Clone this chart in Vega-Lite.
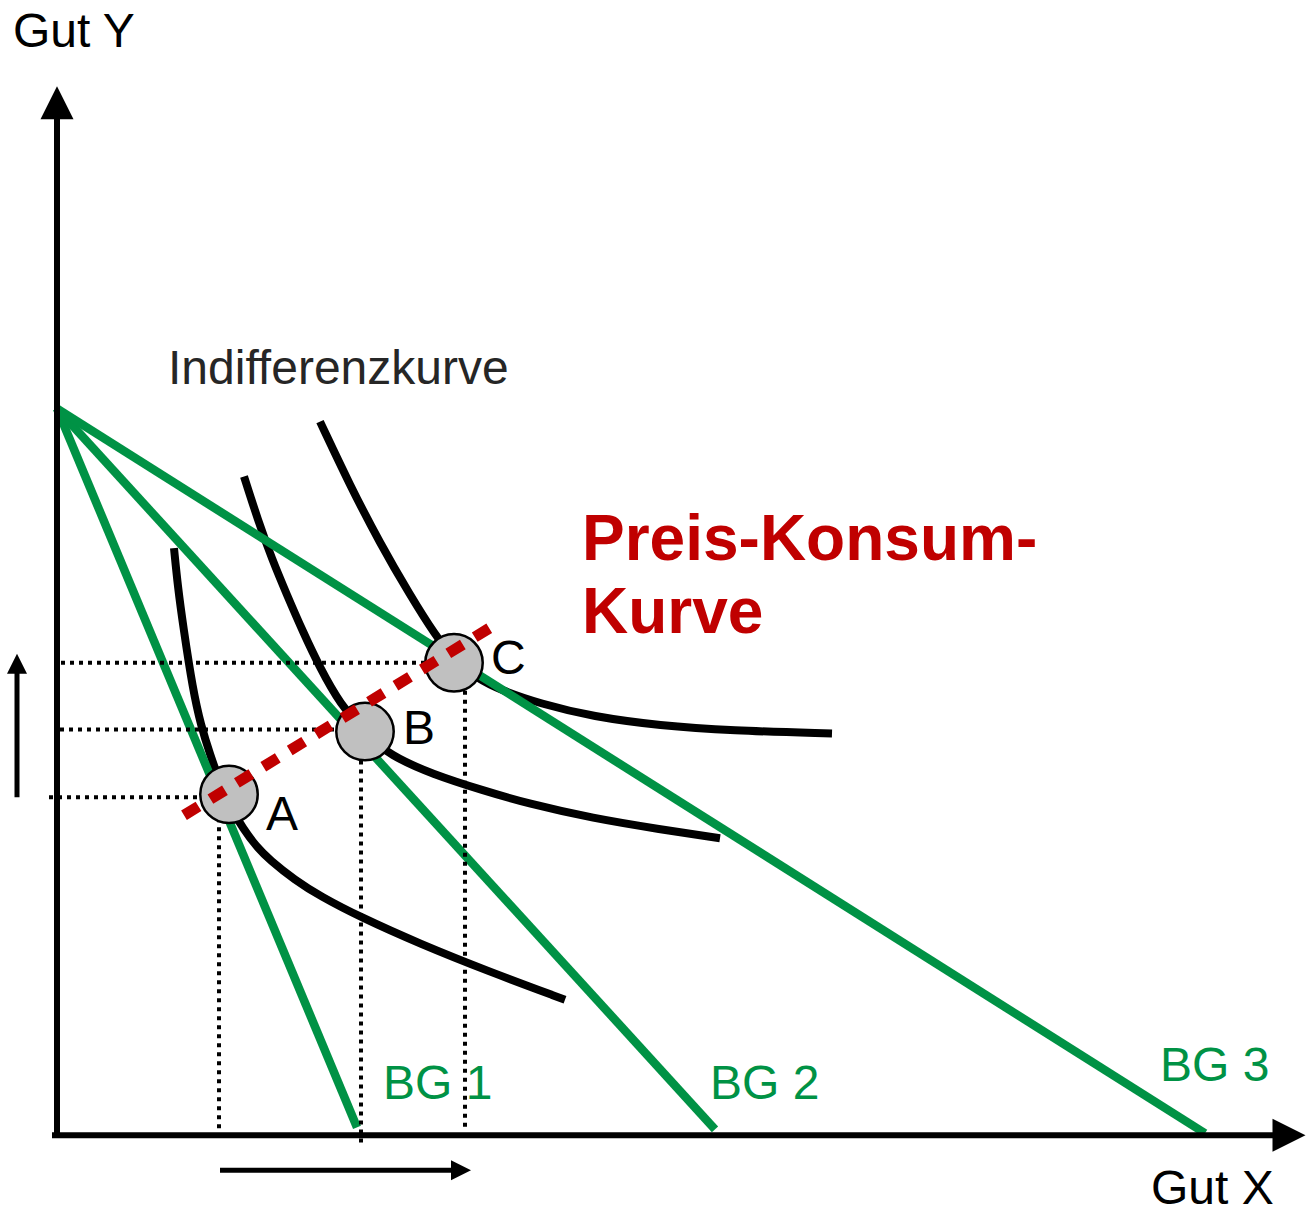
{
  "$schema": "https://vega.github.io/schema/vega-lite/v6.json",
  "width": 1316,
  "height": 1214,
  "autosize": {"type": "fit", "contains": "padding"},
  "padding": 0,
  "background": "white",
  "config": {"view": {"stroke": null}},
  "datasets": {
    "ic": [
      {"c": "IK1", "px": 174, "py": 550}, {"c": "IK1", "px": 178, "py": 590}, {"c": "IK1", "px": 183, "py": 627},
      {"c": "IK1", "px": 193, "py": 693}, {"c": "IK1", "px": 201, "py": 728}, {"c": "IK1", "px": 210, "py": 757},
      {"c": "IK1", "px": 221, "py": 788}, {"c": "IK1", "px": 232, "py": 813}, {"c": "IK1", "px": 243, "py": 831},
      {"c": "IK1", "px": 256, "py": 849}, {"c": "IK1", "px": 270, "py": 863}, {"c": "IK1", "px": 295, "py": 883},
      {"c": "IK1", "px": 320, "py": 899}, {"c": "IK1", "px": 360, "py": 920}, {"c": "IK1", "px": 420, "py": 947},
      {"c": "IK1", "px": 487, "py": 974}, {"c": "IK1", "px": 565, "py": 1003},
      {"c": "IK2", "px": 244, "py": 478}, {"c": "IK2", "px": 258, "py": 522}, {"c": "IK2", "px": 272, "py": 561},
      {"c": "IK2", "px": 287, "py": 597}, {"c": "IK2", "px": 303, "py": 634}, {"c": "IK2", "px": 320, "py": 670},
      {"c": "IK2", "px": 340, "py": 706}, {"c": "IK2", "px": 365, "py": 736}, {"c": "IK2", "px": 390, "py": 758},
      {"c": "IK2", "px": 433, "py": 777}, {"c": "IK2", "px": 483, "py": 793}, {"c": "IK2", "px": 527, "py": 806},
      {"c": "IK2", "px": 593, "py": 821}, {"c": "IK2", "px": 660, "py": 832}, {"c": "IK2", "px": 720, "py": 841},
      {"c": "IK3", "px": 320, "py": 423}, {"c": "IK3", "px": 350, "py": 487}, {"c": "IK3", "px": 380, "py": 545},
      {"c": "IK3", "px": 410, "py": 597}, {"c": "IK3", "px": 435, "py": 637}, {"c": "IK3", "px": 455, "py": 663},
      {"c": "IK3", "px": 478, "py": 681}, {"c": "IK3", "px": 500, "py": 692}, {"c": "IK3", "px": 540, "py": 706},
      {"c": "IK3", "px": 593, "py": 719}, {"c": "IK3", "px": 660, "py": 728}, {"c": "IK3", "px": 730, "py": 733},
      {"c": "IK3", "px": 832, "py": 736}
    ],
    "bg": [
      {"b": "BG 1", "px": 57, "py": 410}, {"b": "BG 1", "px": 357, "py": 1131},
      {"b": "BG 2", "px": 57, "py": 410}, {"b": "BG 2", "px": 715, "py": 1133},
      {"b": "BG 3", "px": 57, "py": 410}, {"b": "BG 3", "px": 1205, "py": 1137}
    ],
    "dots": [
      {"px": 49, "py": 800, "px2": 229, "py2": 800},
      {"px": 60, "py": 732, "px2": 365, "py2": 732},
      {"px": 61, "py": 665, "px2": 454, "py2": 665},
      {"px": 219, "py": 812, "px2": 219, "py2": 1146},
      {"px": 361, "py": 745, "px2": 361, "py2": 1149},
      {"px": 465, "py": 675, "px2": 465, "py2": 1134}
    ],
    "axes": [
      {"px": 57, "py": 1141, "px2": 57, "py2": 112},
      {"px": 52, "py": 1139, "px2": 1278, "py2": 1139}
    ],
    "shafts": [
      {"px": 17, "py": 800, "px2": 17, "py2": 672},
      {"px": 220, "py": 1174, "px2": 455, "py2": 1174}
    ],
    "bigheads": [
      {"d": "up", "px": 57, "py": 103},
      {"d": "right", "px": 1289, "py": 1139}
    ],
    "smallheads": [
      {"d": "up", "px": 17, "py": 666},
      {"d": "right", "px": 461, "py": 1174}
    ],
    "pts": [
      {"p": "A", "px": 229, "py": 797},
      {"p": "B", "px": 365, "py": 734},
      {"p": "C", "px": 454, "py": 665}
    ],
    "pkk": [
      {"px": 184, "py": 818}, {"px": 493, "py": 628}
    ],
    "blacktext": [
      {"t": "Gut Y", "px": 13, "py": 47},
      {"t": "Gut X", "px": 1151, "py": 1208},
      {"t": "A", "px": 266, "py": 833},
      {"t": "B", "px": 403, "py": 746},
      {"t": "C", "px": 491, "py": 676}
    ],
    "graytext": [
      {"t": "Indifferenzkurve", "px": 168, "py": 385}
    ],
    "greentext": [
      {"t": "BG 1", "px": 383, "py": 1103},
      {"t": "BG 2", "px": 710, "py": 1103},
      {"t": "BG 3", "px": 1160, "py": 1085}
    ],
    "redtext": [
      {"t": "Preis-Konsum-", "px": 582, "py": 562},
      {"t": "Kurve", "px": 582, "py": 635}
    ]
  },
  "encoding": {
    "x": {"field": "px", "type": "quantitative", "scale": {"domain": [0, 1316], "nice": false, "zero": false}, "axis": null},
    "y": {"field": "py", "type": "quantitative", "scale": {"domain": [0, 1214], "nice": false, "zero": false, "reverse": true}, "axis": null}
  },
  "layer": [
    {
      "data": {"name": "ic"},
      "mark": {"type": "line", "color": "black", "strokeWidth": 8, "interpolate": "basis", "strokeCap": "butt"},
      "encoding": {"detail": {"field": "c"}}
    },
    {
      "data": {"name": "bg"},
      "mark": {"type": "line", "color": "#009245", "strokeWidth": 8.5, "strokeCap": "butt"},
      "encoding": {"detail": {"field": "b"}}
    },
    {
      "data": {"name": "dots"},
      "mark": {"type": "rule", "color": "black", "strokeWidth": 4, "strokeDash": [4, 5]},
      "encoding": {"x2": {"field": "px2"}, "y2": {"field": "py2"}}
    },
    {
      "data": {"name": "axes"},
      "mark": {"type": "rule", "color": "black", "strokeWidth": 6},
      "encoding": {"x2": {"field": "px2"}, "y2": {"field": "py2"}}
    },
    {
      "data": {"name": "shafts"},
      "mark": {"type": "rule", "color": "black", "strokeWidth": 5},
      "encoding": {"x2": {"field": "px2"}, "y2": {"field": "py2"}}
    },
    {
      "data": {"name": "bigheads"},
      "mark": {"type": "point", "filled": true, "color": "black", "opacity": 1, "size": 1089, "strokeWidth": 0},
      "encoding": {"shape": {"field": "d", "type": "nominal", "legend": null, "scale": {"domain": ["up", "right"], "range": ["M0,-1L1,1L-1,1Z", "M1,0L-1,-1L-1,1Z"]}}}
    },
    {
      "data": {"name": "smallheads"},
      "mark": {"type": "point", "filled": true, "color": "black", "opacity": 1, "size": 400, "strokeWidth": 0},
      "encoding": {"shape": {"field": "d", "type": "nominal", "legend": null, "scale": {"domain": ["up", "right"], "range": ["M0,-1L1,1L-1,1Z", "M1,0L-1,-1L-1,1Z"]}}}
    },
    {
      "data": {"name": "pts"},
      "mark": {"type": "point", "shape": "circle", "filled": true, "fill": "#c0c0c0", "stroke": "black", "strokeWidth": 2.5, "opacity": 1, "size": 3300}
    },
    {
      "data": {"name": "pkk"},
      "mark": {"type": "line", "color": "#c00000", "strokeWidth": 11, "strokeDash": [17, 14], "strokeCap": "butt"}
    },
    {
      "data": {"name": "blacktext"},
      "mark": {"type": "text", "align": "left", "baseline": "alphabetic", "font": "Liberation Sans", "fontSize": 48, "color": "black"},
      "encoding": {"text": {"field": "t"}}
    },
    {
      "data": {"name": "graytext"},
      "mark": {"type": "text", "align": "left", "baseline": "alphabetic", "font": "Liberation Sans", "fontSize": 48, "color": "#262626"},
      "encoding": {"text": {"field": "t"}}
    },
    {
      "data": {"name": "greentext"},
      "mark": {"type": "text", "align": "left", "baseline": "alphabetic", "font": "Liberation Sans", "fontSize": 48, "color": "#009245"},
      "encoding": {"text": {"field": "t"}}
    },
    {
      "data": {"name": "redtext"},
      "mark": {"type": "text", "align": "left", "baseline": "alphabetic", "font": "Liberation Sans", "fontSize": 64, "fontWeight": "bold", "color": "#c00000"},
      "encoding": {"text": {"field": "t"}}
    }
  ]
}
